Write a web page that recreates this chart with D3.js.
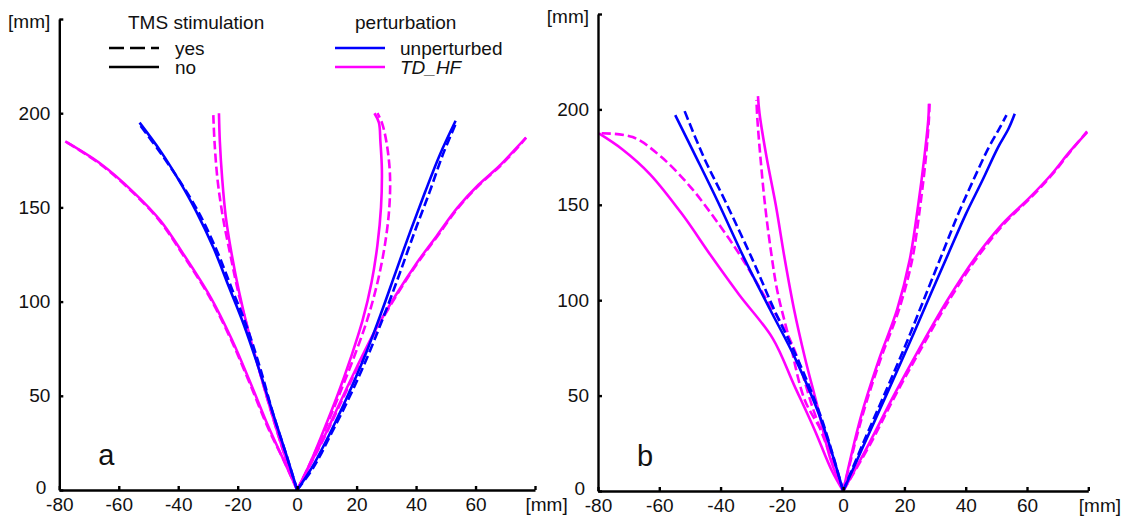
<!DOCTYPE html>
<html>
  <head>
    <meta charset="utf-8" />
    <title>Reaching trajectories</title>
    <script src="https://d3js.org/d3.v7.min.js"></script>
    <style>
      body { margin: 0; background: #fff; }
      text { font-family: Arial, "Liberation Sans", sans-serif; fill: #111; }
    </style>
  </head>
  <body>
    <svg id="viz"></svg>
    <script>

      var width = 1129;
      var height = 521;

      // axis ticks (the last tick carries the unit instead of a number)
      var xTicks = [-80, -60, -40, -20, 0, 20, 40, 60, 80];
      var yTicks = [0, 50, 100, 150, 200, 250];
      var unitLabel = "[mm]";

      // legend entries
      var tmsLabels = ["yes", "no"];
      var pertLabels = ["unperturbed", "TD_HF"];
      var colors = {unperturbed: "#0000ff", TD_HF: "#ff00ff"};

      // ---- panel a : [x mm, y mm] ----
      var aBlueLeftNo = [[0,0],[-3.5,18],[-8,40],[-13,65],[-18,88],[-23,108],[-28,128],[-34,148],[-40,165],[-46,180],[-53,195]];
      var aBlueLeftYes = [[0,0],[-3.5,18],[-8,40],[-12.5,65],[-17,87],[-22,107],[-27,127],[-33,147],[-39.5,164],[-46,179],[-53,194]];
      var aBlueRightNo = [[0,0],[5,12],[11,30],[17,50],[23,72],[28.5,95],[33,115],[38,137],[43,158],[48,178],[53.3,196]];
      var aBlueRightYes = [[0,0],[5.5,12],[11.5,30],[17.8,50],[24,72],[29.8,95],[34.5,115],[39.5,137],[44.5,158],[49,178],[53.5,195]];
      var aPinkLeftOutNo = [[0,0],[-4,14],[-9.5,33],[-16,58],[-22,80],[-29,102],[-39,127],[-46,143],[-55,158],[-66,173],[-78,185]];
      var aPinkLeftOutYes = [[0,0],[-4,14],[-9.8,33],[-16.3,58],[-22.3,80],[-29.3,102],[-39.3,127],[-46.3,143],[-55.3,158],[-66.3,173],[-78,185]];
      var aPinkLeftInNo = [[0,0],[-4.5,20],[-9,43],[-13,65],[-16.5,85],[-19.5,105],[-22,125],[-24,145],[-25.2,165],[-26,185],[-26.3,200]];
      var aPinkLeftInYes = [[0,0],[-4.5,20],[-9,43],[-13,65],[-16.5,85],[-19.8,105],[-22.5,125],[-25,145],[-26.8,165],[-27.8,185],[-28.2,199]];
      var aPinkRightInNo = [[0,0],[4,13],[8.5,30],[13.5,50],[18,70],[22,90],[25,110],[27,130],[28.2,150],[28.5,170],[28,185],[27.5,195],[26,200]];
      var aPinkRightInYes = [[0,0],[4,13],[8.8,30],[14,50],[19,70],[23.5,90],[27,110],[29.5,130],[31,150],[31.2,168],[30,185],[28.5,195],[27,200]];
      var aPinkRightOutNo = [[0,0],[4.5,14],[9,28],[14,45],[20,65],[26,84],[33,103],[40,120],[47,135],[54,150],[61,162],[68,172],[74,182],[77,187]];
      var aPinkRightOutYes = [[0,0],[4.6,14],[9.2,28],[14.3,45],[20.3,65],[26.3,84],[33.3,103],[40.3,120],[47.3,135],[54.3,150],[61.3,162],[68.3,172],[74.3,182],[77,187]];

      // ---- panel b : [x mm, y mm] ----
      var bBlueLeftNo = [[0,0],[-7.3,37.7],[-15.5,69],[-23.8,95],[-32,121],[-41,152],[-48,175],[-54.8,197]];
      var bBlueLeftYes = [[0,0],[-7,37.7],[-14.8,69],[-22.5,95],[-29.5,121],[-38.5,152],[-45.5,175],[-52.2,201]];
      var bBlueRightNo = [[0,0],[7,25],[14,50],[21.5,77],[28.5,103],[34.5,125],[40,145],[45.5,163],[50.5,180],[54,190],[56,197.7]];
      var bBlueRightYes = [[0,0],[6.5,25],[13.3,50],[20.5,77],[27,103],[32.5,125],[37.5,145],[42.5,163],[47.5,180],[51,190],[53.3,197]];
      var bPinkLeftOutNo = [[0,0],[-3.8,11],[-9.3,32],[-16,55.5],[-23,80],[-34,103],[-43,123],[-52.5,145],[-63,166],[-72,179],[-79.7,187.4]];
      var bPinkLeftOutYes = [[0,0],[-4.5,20],[-9.6,42],[-16.7,77],[-26.2,103.6],[-33.3,122.7],[-41.5,141.9],[-49.8,159.3],[-59.3,175],[-68.7,185.5],[-79.4,187.5]];
      var bPinkLeftInNo = [[0,0],[-4,16],[-8.5,45],[-12.5,70],[-16,95],[-19,121],[-22,150],[-25,175],[-27.3,198],[-27.8,207]];
      var bPinkLeftInYes = [[0,0],[-6,28],[-12.6,48],[-17.5,79],[-21.5,105],[-23.5,125],[-25.5,150],[-27,175],[-28,195],[-28.3,205]];
      var bPinkRightInNo = [[0,0],[5.8,39],[11.7,69],[17.6,95],[21.7,121],[24.5,150],[26.5,175],[27.8,195],[28,203]];
      var bPinkRightInYes = [[0,0],[6.2,39],[12.2,69],[18.2,95],[22.5,121],[25.2,150],[27,175],[28,195],[28.2,203]];
      var bPinkRightOutNo = [[0,0],[8.5,25],[16.5,50],[25,75],[34,100],[43,122],[52,140],[61,154],[68,166],[74,178],[79.6,188]];
      var bPinkRightOutYes = [[0,0],[9,25],[17,50],[25.6,75],[34.6,100],[43.6,122],[52.5,140],[61.4,154],[68.3,166],[74.2,178],[79.6,188.5]];

      function seriesList(p) {
        return [
          {pert: "TD_HF", tms: "yes", pts: p.pLOy}, {pert: "TD_HF", tms: "no", pts: p.pLOn},
          {pert: "TD_HF", tms: "yes", pts: p.pLIy}, {pert: "TD_HF", tms: "no", pts: p.pLIn},
          {pert: "TD_HF", tms: "yes", pts: p.pRIy}, {pert: "TD_HF", tms: "no", pts: p.pRIn},
          {pert: "TD_HF", tms: "yes", pts: p.pROy}, {pert: "TD_HF", tms: "no", pts: p.pROn},
          {pert: "unperturbed", tms: "no", pts: p.bLn}, {pert: "unperturbed", tms: "yes", pts: p.bLy},
          {pert: "unperturbed", tms: "no", pts: p.bRn}, {pert: "unperturbed", tms: "yes", pts: p.bRy}
        ];
      }

      var panels = [
        {name: "a", xr: [59.3, 535], yr: [490, 19],
         series: seriesList({pLOy: aPinkLeftOutYes, pLOn: aPinkLeftOutNo, pLIy: aPinkLeftInYes, pLIn: aPinkLeftInNo,
           pRIy: aPinkRightInYes, pRIn: aPinkRightInNo, pROy: aPinkRightOutYes, pROn: aPinkRightOutNo,
           bLn: aBlueLeftNo, bLy: aBlueLeftYes, bRn: aBlueRightNo, bRy: aBlueRightYes})},
        {name: "b", xr: [598, 1088.3], yr: [491, 14],
         series: seriesList({pLOy: bPinkLeftOutYes, pLOn: bPinkLeftOutNo, pLIy: bPinkLeftInYes, pLIn: bPinkLeftInNo,
           pRIy: bPinkRightInYes, pRIn: bPinkRightInNo, pROy: bPinkRightOutYes, pROn: bPinkRightOutNo,
           bLn: bBlueLeftNo, bLy: bBlueLeftYes, bRn: bBlueRightNo, bRy: bBlueRightYes})}
      ];

      var svg = d3.select("#viz")
        .attr("width", width)
        .attr("height", height);

      panels.forEach(function(p) {
        var x = d3.scaleLinear().domain([-80, 80]).range(p.xr);
        var y = d3.scaleLinear().domain([0, 250]).range(p.yr);
        var g = svg.append("g");

        var line = d3.line()
          .x(function(d) { return x(d[0]); })
          .y(function(d) { return y(d[1]); })
          .curve(d3.curveCatmullRom.alpha(0.5));

        g.selectAll("path.traj")
          .data(p.series)
          .enter().append("path")
          .attr("class", "traj")
          .attr("d", function(d) { return line(d.pts); })
          .attr("fill", "none")
          .attr("stroke", function(d) { return colors[d.pert]; })
          .attr("stroke-width", 2.6)
          .attr("stroke-dasharray", function(d) { return d.tms === "yes" ? "9,4" : null; });

        var xAxis = g.append("g")
          .attr("transform", "translate(0," + p.yr[0] + ")")
          .call(d3.axisBottom(x)
            .tickValues(xTicks)
            .tickSizeInner(-4)
            .tickSizeOuter(0)
            .tickPadding(8)
            .tickFormat(function(d) { return d === 80 ? unitLabel : d; }));

        var yAxis = g.append("g")
          .attr("transform", "translate(" + p.xr[0] + ",0)")
          .call(d3.axisLeft(y)
            .tickValues(yTicks)
            .tickSizeInner(-4)
            .tickSizeOuter(0)
            .tickPadding(9)
            .tickFormat(function(d) { return d === 250 ? unitLabel : d; }));

        [xAxis, yAxis].forEach(function(ax) {
          ax.select(".domain").attr("stroke", "#000").attr("stroke-width", 2.4);
          ax.selectAll(".tick line").attr("stroke", "#000").attr("stroke-width", 2.4);
          ax.selectAll(".tick text")
            .attr("font-size", "19px")
            .attr("font-family", "Arial, 'Liberation Sans', sans-serif")
            .attr("fill", "#111");
        });

        xAxis.selectAll(".tick text")
          .filter(function(d) { return d === 80; })
          .attr("text-anchor", "start")
          .attr("x", -10);

        yAxis.selectAll(".tick text")
          .filter(function(d) { return d === 250; })
          .attr("dy", "0.45em");

        yAxis.selectAll(".tick text")
          .filter(function(d) { return d === 0; })
          .attr("x", -13)
          .attr("dy", "0.2em");

        g.append("text")
          .attr("x", p.xr[0] + 39)
          .attr("y", p.yr[0] - 25)
          .attr("font-size", "29px")
          .text(p.name);
      });

      // legend
      var legend = svg.append("g");
      legend.append("text").attr("x", 128).attr("y", 29).attr("font-size", "19px").text("TMS stimulation");
      legend.append("text").attr("x", 355).attr("y", 29).attr("font-size", "19px").text("perturbation");

      tmsLabels.forEach(function(t, i) {
        var yy = 48 + i * 19;
        legend.append("line")
          .attr("x1", 109).attr("x2", 159).attr("y1", yy).attr("y2", yy)
          .attr("stroke", "#000").attr("stroke-width", 2.6)
          .attr("stroke-dasharray", t === "yes" ? "15,6" : null);
        legend.append("text").attr("x", 175).attr("y", yy + 6.5).attr("font-size", "19px").text(t);
      });

      pertLabels.forEach(function(t, i) {
        var yy = 48 + i * 19;
        legend.append("line")
          .attr("x1", 335).attr("x2", 385).attr("y1", yy).attr("y2", yy)
          .attr("stroke", colors[t]).attr("stroke-width", 2.6);
        legend.append("text").attr("x", 400).attr("y", yy + 6.5).attr("font-size", "19px")
          .attr("font-style", t === "TD_HF" ? "italic" : null)
          .text(t);
      });

    </script>
  </body>
</html>
